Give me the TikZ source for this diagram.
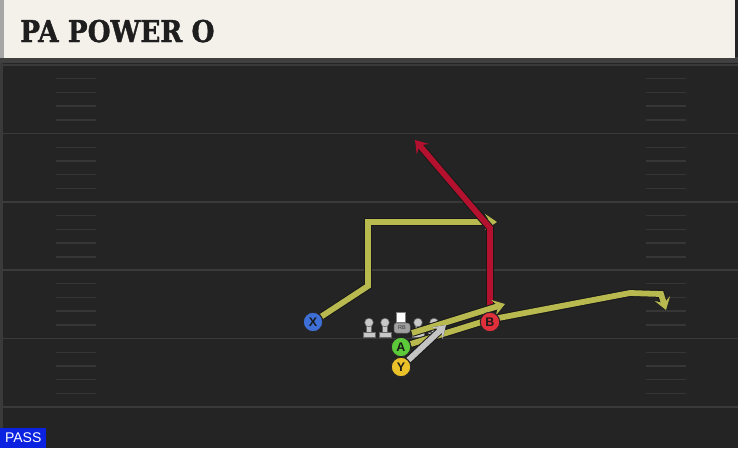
\documentclass[tikz,border=0pt]{standalone}
\usepackage{fontspec}
\setmainfont{DejaVu Sans}
\newfontfamily\headfont[FakeStretch=0.88,FakeBold=1.2]{DejaVu Serif}
\newfontfamily\labfont{Liberation Sans}
\usetikzlibrary{arrows.meta}
\definecolor{field}{HTML}{242424}
\definecolor{header}{HTML}{F4F1EA}
\definecolor{headtxt}{HTML}{1E1E1E}
\definecolor{yard}{HTML}{3A3A3A}
\definecolor{hashc}{HTML}{363636}
\definecolor{route}{HTML}{B8B94F}
\definecolor{redroute}{HTML}{B3112E}
\definecolor{grayroute}{HTML}{C4C4C4}
\definecolor{xblue}{HTML}{3D6FD6}
\definecolor{agreen}{HTML}{5CC93A}
\definecolor{yyellow}{HTML}{EBC12A}
\definecolor{bred}{HTML}{E0303C}
\definecolor{passblue}{HTML}{0B22E0}
\definecolor{olgray}{HTML}{C8C8C8}
\pgfdeclarelayer{bg}
\pgfdeclarelayer{front}
\pgfsetlayers{bg,main,front}
\tikzset{
  player/.style={circle, draw=black!85, line width=1pt, minimum size=19.5pt, inner sep=0pt,
    font=\labfont\bfseries\fontsize{12.5}{12.5}\selectfont, text=black!90},
  routeline/.style={draw=#1, line width=5.8pt, line join=miter,
    preaction={draw=black!90, line width=7.8pt},
    -{Stealth[length=12pt,width=16pt,inset=5pt]}},
  yardline/.style={draw=yard, line width=1.6pt},
  hashline/.style={draw=hashc, line width=1.4pt},
  lineman/.pic={
    \fill[olgray, draw=black!60, line width=0.5pt] (-2.5,0) rectangle (2.5,10);
    \fill[olgray, draw=black!60, line width=0.5pt] (-6,9) rectangle (6,14);
    \fill[olgray, draw=black!60, line width=0.5pt] (0,-0.5) circle (4.3);
  }
}
\begin{document}
\begin{tikzpicture}[x=1pt,y=-1pt]
\useasboundingbox (0,0) rectangle (738,448);
\begin{pgfonlayer}{bg}
\fill[field] (0,0) rectangle (738,448);
\fill[field!90!white] (0,58) rectangle (3,448);
\fill[black!75] (0,57) rectangle (738,63);
\fill[header] (0,0) rectangle (735,58);
\fill[black!35] (0,0) rectangle (4,58);
\foreach \y in {65,133.5,202,270,338.5,407}
  \draw[yardline] (0,\y) -- (738,\y);
\foreach \b in {65,133.5,202,270,338.5}
  \foreach \k in {1,2,3,4} {
    \draw[hashline] (56,\b+\k*13.7) -- (96,\b+\k*13.7);
    \draw[hashline] (646,\b+\k*13.7) -- (686,\b+\k*13.7);
  }
\pic at (369,323) {lineman};
\pic at (385,323) {lineman};
\pic at (418,323) {lineman};
\pic at (434,323) {lineman};
\end{pgfonlayer}
\node[anchor=base west, inner sep=0pt, text=headtxt,
  font=\headfont\bfseries\fontsize{30}{30}\selectfont] (title) at (20,42) {PA POWER O};
\node[fill=white, draw=black!50, line width=0.5pt, minimum width=9pt, minimum height=10pt, inner sep=0pt] (qb) at (401,317.5) {};
\node[fill=olgray!80!black, draw=black!60, rounded corners=2.5pt, line width=0.5pt,
  minimum width=16pt, minimum height=10pt, inner sep=0pt,
  font=\labfont\fontsize{5.5}{5.5}\selectfont, text=black!80] (rb) at (402,328) {RB};
\coordinate (rbstart) at (412,333);
% players on front layer
\begin{pgfonlayer}{front}
\node[player, fill=xblue] (X) at (313,322) {X};
\node[player, fill=agreen] (A) at (401,347) {A};
\node[player, fill=yyellow] (Y) at (401,367) {Y};
\node[player, fill=bred] (B) at (490,322) {B};
\end{pgfonlayer}
% routes
\coordinate (x1) at (368,286);
\coordinate (x2) at (368,222);
\coordinate (x3) at (497,222);
\draw[routeline=route] (X) -- (x1) -- (x2) -- (x3);
\coordinate (b1) at (490,228);
\coordinate (b2) at (415,140);
\draw[routeline=redroute] (B) -- (b1) -- (b2);
\coordinate (a1) at (488,320);
\coordinate (a2) at (630,293);
\coordinate (a3) at (661,294);
\coordinate (a4) at (666,310);
\draw[routeline=route] (A) -- (a1) -- (a2) -- (a3) -- (a4);
\coordinate (r1) at (505,304);
\draw[routeline=route] (rbstart) -- (r1);
\coordinate (g1) at (446,325);
\draw[routeline=grayroute] (Y) -- (g1);
\node[anchor=south west, fill=passblue, text=white, minimum width=46pt, minimum height=20pt,
  inner sep=0pt, font=\labfont\fontsize{14}{14}\selectfont] (pass) at (0,448) {PASS};
\end{tikzpicture}
\end{document}
